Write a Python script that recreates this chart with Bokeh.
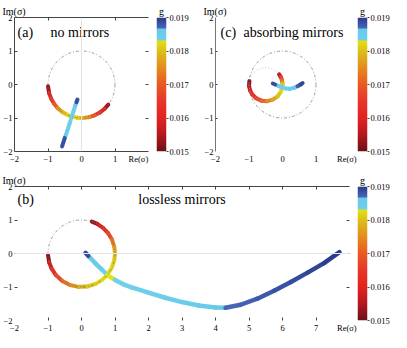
import numpy as np
from bokeh.plotting import figure
from bokeh.models import ColumnDataSource, LinearColorMapper, FixedTicker, LinearAxis, Span
from bokeh.layouts import row, column
from bokeh.transform import linear_cmap
from bokeh.core.properties import value
from bokeh.embed import file_html
from bokeh.resources import INLINE

FONT = "Liberation Serif"

# ---------------- colour scale of g ----------------
g_low, g_high = 0.015, 0.019
g_ticks = [0.015, 0.016, 0.017, 0.018, 0.019]
g_tick_labels = ["0.015", "0.016", "0.017", "0.018", "0.019"]
cmap_g = [0.0150, 0.0155, 0.0160, 0.0165, 0.0170, 0.0175, 0.0179, 0.01832,
          0.01832, 0.01866, 0.01866, 0.0190]
cmap_colors = ["#6a1016", "#b5181f", "#e2231f", "#e8352a", "#e85a22", "#e58b1d",
               "#dab61a", "#e6e214", "#6fd0ec", "#69c9e9", "#4a68b8", "#283a8e"]

# ---------------- panel (a): no mirrors ----------------
a_left_re = [-0.999, -0.966, -0.906, -0.819, -0.707, -0.574, -0.423, -0.292]
a_left_im = [-0.052, -0.259, -0.423, -0.574, -0.707, -0.819, -0.906, -0.956]
a_left_g = [0.0150, 0.0157, 0.0163, 0.0168, 0.0173, 0.0178, 0.01815, 0.0183]
a_right_re = [0.799, 0.682, 0.545, 0.391, 0.225, 0.052, -0.122, -0.292]
a_right_im = [-0.602, -0.731, -0.839, -0.921, -0.974, -0.999, -0.993, -0.956]
a_right_g = [0.0150, 0.0157, 0.0163, 0.0168, 0.0173, 0.0178, 0.01815, 0.0183]
a_in_re = [-0.292, -0.24, -0.19, -0.15, -0.12]
a_in_im = [-0.956, -0.80, -0.64, -0.53, -0.45]
a_in_g = [0.0183, 0.01835, 0.0185, 0.01868, 0.0190]
a_out_re = [-0.292, -0.36, -0.43, -0.50, -0.58]
a_out_im = [-0.956, -1.18, -1.40, -1.60, -1.85]
a_out_g = [0.0183, 0.01835, 0.0185, 0.01866, 0.0190]
a_guide_x, a_guide_y, a_guide_r = [0.0], [0.0], [1.0]

# ---------------- panel (c): absorbing mirrors ----------------
c_left_re = [-0.989, -0.998, -0.970, -0.910, -0.787, -0.629, -0.456, -0.289, -0.146, -0.047, -0.008]
c_left_im = [0.104, -0.044, -0.171, -0.287, -0.410, -0.483, -0.498, -0.453, -0.354, -0.211, -0.087]
c_left_g = [0.0150, 0.0154, 0.0158, 0.0161, 0.0165, 0.0169, 0.0173, 0.0176, 0.0179, 0.01815, 0.0183]
c_upper_re = [-0.101, -0.059, -0.024, -0.005, 0.000, -0.008]
c_upper_im = [0.301, 0.235, 0.155, 0.070, 0.000, -0.087]
c_upper_g = [0.0150, 0.0158, 0.0166, 0.0174, 0.0179, 0.0183]
c_in_re = [-0.008, -0.08, -0.15, -0.22, -0.29]
c_in_im = [-0.087, -0.06, -0.03, 0.00, 0.03]
c_in_g = [0.0183, 0.01835, 0.0185, 0.01868, 0.0190]
c_out_re = [-0.008, 0.10, 0.22, 0.34, 0.45, 0.54, 0.60]
c_out_im = [-0.087, -0.12, -0.13, -0.10, -0.05, 0.00, 0.04]
c_out_g = [0.0183, 0.01835, 0.0185, 0.0186, 0.01868, 0.0188, 0.0190]
c_guide_x, c_guide_y, c_guide_r = [0.0, -0.5], [0.0, 0.0], [1.0, 0.5]

# ---------------- panel (b): lossless mirrors ----------------
b_upper_re = [0.309, 0.469, 0.643, 0.788, 0.906, 0.978, 1.000, 0.978, 0.906, 0.766]
b_upper_im = [0.951, 0.883, 0.766, 0.616, 0.423, 0.208, 0.000, -0.208, -0.423, -0.643]
b_upper_g = [0.0150, 0.0155, 0.0160, 0.0165, 0.0170, 0.01755, 0.0179, 0.0181, 0.01822, 0.0183]
b_lower_re = [-0.999, -0.966, -0.891, -0.766, -0.574, -0.342, -0.087, 0.174, 0.423, 0.616, 0.766]
b_lower_im = [-0.052, -0.259, -0.454, -0.643, -0.819, -0.940, -0.996, -0.985, -0.906, -0.788, -0.643]
b_lower_g = [0.0150, 0.0155, 0.0160, 0.0165, 0.0170, 0.0174, 0.0177, 0.0180, 0.01815, 0.01825, 0.0183]
b_in_re = [0.766, 0.60, 0.42, 0.28, 0.20, 0.12]
b_in_im = [-0.643, -0.47, -0.30, -0.15, -0.07, 0.02]
b_in_g = [0.0183, 0.01835, 0.0185, 0.0186, 0.01868, 0.0190]
b_out_re = [0.766, 1.0, 1.25, 1.5, 2.0, 2.5, 3.0, 3.5, 4.0, 4.3, 4.75, 5.25, 5.75, 6.25, 6.75, 7.25, 7.7]
b_out_im = [-0.643, -0.79, -0.92, -1.01, -1.17, -1.32, -1.45, -1.55, -1.61, -1.62, -1.53, -1.35, -1.11, -0.85, -0.57, -0.28, 0.04]
b_out_g = [0.0183, 0.01832, 0.01834, 0.01836, 0.0184, 0.01845, 0.0185, 0.01856, 0.01862, 0.01866,
           0.0187, 0.01875, 0.0188, 0.01885, 0.0189, 0.01895, 0.0190]
b_guide_x, b_guide_y, b_guide_r = [0.0], [0.0], [1.0]

xticks_top = [-2, -1, 0, 1]
xticks_b = [-2, -1, 0, 1, 2, 3, 4, 5, 6, 7]
yticks = [-2, -1, 0, 1, 2]
x_title, y_title = "Re(\u03c3)", "Im(\u03c3)"
panel_tags = ["(a)", "(c)", "(b)"]
panel_names = ["no mirrors", "absorbing mirrors", "lossless mirrors"]


def hex2rgb(h):
    return [int(h[i:i + 2], 16) for i in (1, 3, 5)]


def build_palette(n=400):
    xs = np.array(cmap_g)
    cols = np.array([hex2rgb(c) for c in cmap_colors], float)
    pal = []
    for k in range(n):
        gv = g_low + (g_high - g_low) * (k + 0.5) / n
        i = int(np.searchsorted(xs, gv, side="right")) - 1
        i = min(max(i, 0), len(xs) - 2)
        span = xs[i + 1] - xs[i]
        t = 0.0 if span <= 0 else min(max((gv - xs[i]) / span, 0.0), 1.0)
        c = cols[i] + (cols[i + 1] - cols[i]) * t
        pal.append("#%02x%02x%02x" % tuple(int(round(v)) for v in c))
    return pal


PALETTE = build_palette()
MAPPER = LinearColorMapper(palette=PALETTE, low=g_low, high=g_high)


def fmt(t):
    return ("\u2212%g" % abs(t)) if t < 0 else "%g" % t


def seg_source(re, im, g):
    re, im, g = np.asarray(re), np.asarray(im), np.asarray(g)
    return ColumnDataSource(dict(x0=re[:-1], y0=im[:-1], x1=re[1:], y1=im[1:],
                                 g=(g[:-1] + g[1:]) / 2))


def style_axis(ax, ticks, line_color, marks, tick_len=3, extra=None):
    labels = {t: fmt(t) for t in ticks}
    all_ticks = list(ticks)
    if extra is not None:
        all_ticks.append(extra[0])
        labels[extra[0]] = extra[1]
    ax.ticker = FixedTicker(ticks=all_ticks, minor_ticks=marks)
    ax.major_label_overrides = labels
    ax.axis_line_color = line_color
    ax.axis_line_width = 1
    ax.major_tick_line_color = None
    ax.minor_tick_line_color = "#444444"
    ax.minor_tick_in = tick_len
    ax.minor_tick_out = 0
    ax.major_tick_in = 0
    ax.major_tick_out = 0
    ax.major_label_text_font = FONT
    ax.major_label_text_font_size = "8.5px"
    ax.major_label_text_color = "black"
    ax.major_label_standoff = 2


def tick_axis(p, place, minor, line_color):
    ax = LinearAxis(ticker=FixedTicker(ticks=[], minor_ticks=minor))
    ax.axis_line_color = line_color
    ax.major_tick_line_color = None
    ax.minor_tick_line_color = "#444444"
    ax.minor_tick_in = 3
    ax.minor_tick_out = 0
    ax.major_label_standoff = 0
    p.add_layout(ax, place)


def style_title(t, text, align="left", offset=0):
    t.text = text
    t.align = align
    t.offset = offset
    t.standoff = 2
    t.text_font = FONT
    t.text_font_size = "10px"
    t.text_font_style = "normal"
    t.text_color = "black"


def make_panel(x_end, frame_w, border_left, border_top, border_bottom):
    p = figure(x_range=(-2, x_end), y_range=(-2, 2), frame_width=frame_w, frame_height=134,
               min_border=0, min_border_left=border_left, min_border_right=8,
               min_border_top=border_top, min_border_bottom=border_bottom,
               toolbar_location=None, output_backend="svg")
    p.grid.visible = False
    p.outline_line_color = None
    p.background_fill_color = "white"
    p.border_fill_color = "white"
    style_title(p.title, y_title, "left", -12)
    return p


def draw_branches(p, branches, width):
    for re, im, g in branches:
        p.segment("x0", "y0", "x1", "y1", source=seg_source(re, im, g),
                  line_color=linear_cmap("g", PALETTE, g_low, g_high),
                  line_width=width, line_cap="round")


def draw_guides(p, gx, gy, gr, colors, dashes):
    for i in range(len(gx)):
        src = ColumnDataSource(dict(x=[gx[i]], y=[gy[i]], r=[gr[i]]))
        p.circle("x", "y", radius="r", source=src, fill_color=None,
                 line_color=colors[i], line_width=0.7, line_dash=dashes[i])


def heading_text(p, x, text, dx, dy, align):
    # glyph text: positive y_offset moves the text down (screen space)
    p.text(x=[x], y=[p.y_range.end], text=[text], x_offset=dx, y_offset=dy,
           text_font=value(FONT), text_font_size="14px", text_color="black",
           text_align=align, text_baseline="middle")


def add_heading(p, tag, name, dx_tag, dx_name, dy, name_centered=False):
    xs = p.x_range.start
    heading_text(p, xs, tag, dx_tag, dy, "left")
    if name_centered:
        heading_text(p, (p.x_range.start + p.x_range.end) / 2, name, 0, dy, "center")
    else:
        heading_text(p, xs, name, dx_name, dy, "left")


def make_cbar(border_top, border_bottom):
    c = figure(x_range=(0, 1), y_range=(g_low, g_high), frame_width=10, frame_height=134,
               min_border=0, min_border_left=0, min_border_right=25,
               min_border_top=border_top, min_border_bottom=border_bottom,
               x_axis_location=None, y_axis_location="right",
               toolbar_location=None, output_backend="svg")
    c.grid.visible = False
    c.outline_line_color = None
    c.border_fill_color = "white"
    style_title(c.title, "g", "center", 0)
    levels = np.linspace(g_low, g_high, len(PALETTE)).reshape(-1, 1)
    c.image(image=[levels], x=0, y=g_low, dw=1, dh=g_high - g_low, color_mapper=MAPPER)
    ax = c.yaxis[0]
    ax.ticker = FixedTicker(ticks=g_ticks)
    ax.major_label_overrides = dict(zip(g_ticks, g_tick_labels))
    ax.axis_line_color = None
    ax.major_tick_in = 0
    ax.major_tick_out = 2
    ax.major_tick_line_color = "#444444"
    ax.minor_tick_line_color = None
    ax.major_label_text_font = FONT
    ax.major_label_text_font_size = "8.5px"
    ax.major_label_text_color = "black"
    ax.major_label_standoff = 1
    return c


TOP_B, BOT_A, TOP_B2, BOT_B = 17, 12, 20, 14

# ---------- panel (a) ----------
pa = make_panel(2, 134, 13, TOP_B, BOT_A)
style_axis(pa.xaxis[0], xticks_top, "#444444", [-1, 0, 1], extra=(1.7, x_title))
style_axis(pa.yaxis[0], yticks, "#444444", [-1, 0, 1])
tick_axis(pa, "above", [-1, 0, 1], "#444444")
tick_axis(pa, "right", [-1, 0, 1], None)
pa.add_layout(Span(location=0, dimension="height", line_color="#e4e4e4", line_width=1))
draw_branches(pa, [(a_left_re, a_left_im, a_left_g), (a_right_re, a_right_im, a_right_g)], 4)
draw_branches(pa, [(a_in_re, a_in_im, a_in_g), (a_out_re, a_out_im, a_out_g)], 4)
draw_guides(pa, a_guide_x, a_guide_y, a_guide_r, ["#777777"], ["3 2 1 2"])
add_heading(pa, panel_tags[0], panel_names[0], 3, 36, 15)
cba = make_cbar(TOP_B, BOT_A)

# ---------- panel (c) ----------
pc = make_panel(2, 134, 24, TOP_B, BOT_A)
style_axis(pc.xaxis[0], xticks_top, None, [], tick_len=0, extra=(1.92, x_title))
style_axis(pc.yaxis[0], yticks, "#777777", [-1, 0, 1], tick_len=2)
draw_branches(pc, [(c_left_re, c_left_im, c_left_g), (c_upper_re, c_upper_im, c_upper_g)], 4)
draw_branches(pc, [(c_in_re, c_in_im, c_in_g), (c_out_re, c_out_im, c_out_g)], 4)
draw_guides(pc, c_guide_x, c_guide_y, c_guide_r, ["#777777", "#aaaaaa"], ["3 2 1 2", "1 2"])
add_heading(pc, panel_tags[1], panel_names[1], 5, 28, 15)
cbc = make_cbar(TOP_B, BOT_A)

# ---------- panel (b) ----------
pb = make_panel(8, 335, 13, TOP_B2, BOT_B)
style_axis(pb.xaxis[0], xticks_b, None, [-1, 0, 1, 2, 3, 4, 5, 6, 7], extra=(7.92, x_title))
style_axis(pb.yaxis[0], yticks, None, [-1, 0, 1])
tick_axis(pb, "above", [-1, 0, 1, 2, 3, 4, 5, 6, 7], "#444444")
tick_axis(pb, "right", [-1, 0, 1], None)
pb.add_layout(Span(location=0, dimension="width", line_color="#e4e4e4", line_width=1))
draw_branches(pb, [(b_upper_re, b_upper_im, b_upper_g), (b_lower_re, b_lower_im, b_lower_g)], 4)
draw_branches(pb, [(b_in_re, b_in_im, b_in_g), (b_out_re, b_out_im, b_out_g)], 4.5)
draw_guides(pb, b_guide_x, b_guide_y, b_guide_r, ["#777777"], ["3 2 1 2"])
add_heading(pb, panel_tags[2], panel_names[2], 3, 0, 13, name_centered=True)
cbb = make_cbar(TOP_B2, BOT_B)

layout = column(row(pa, cba, pc, cbc), row(pb, cbb))
open("out.html", "w").write(file_html(layout, INLINE))
